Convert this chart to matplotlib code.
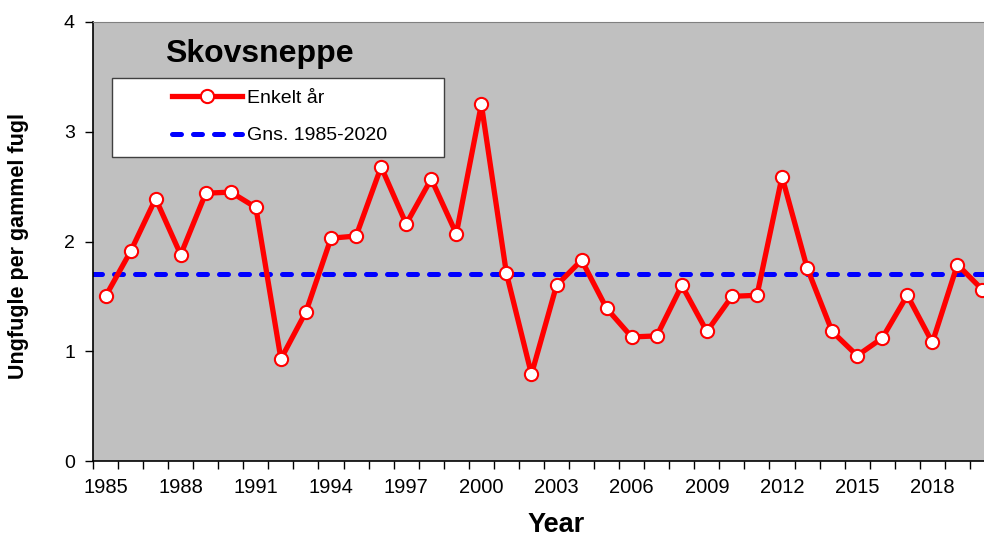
import matplotlib.pyplot as plt
import numpy as np
from matplotlib.patches import Rectangle

plt.rcParams['font.family'] = ['Liberation Sans', 'DejaVu Sans']

# data
years = list(range(1985, 2021))
values = [1.50, 1.91, 2.39, 1.88, 2.44, 2.45, 2.31, 0.93, 1.36, 2.03,
          2.05, 2.68, 2.16, 2.57, 2.07, 3.25, 1.71, 0.79, 1.60, 1.83,
          1.39, 1.13, 1.14, 1.60, 1.18, 1.50, 1.51, 2.59, 1.76, 1.18,
          0.96, 1.12, 1.51, 1.08, 1.79, 1.56]
mean_value = 1.70
mean_label = 'Gns. 1985-2020'
series_label = 'Enkelt år'
species = 'Skovsneppe'

fig = plt.figure(figsize=(9.84, 5.37), dpi=100)
# axes runs a bit past the right edge, like the original crop
ax = fig.add_axes([93/984, 76/537, 902/984, 439/537])
ax.set_facecolor('#C0C0C0')

ax.axhline(mean_value, color='#0000FF', lw=3.6, dashes=(1.8, 2.4),
           dash_capstyle='round', label=mean_label, zorder=2)
ax.plot(years, values, color='#FF0000', lw=3.8, marker='o', ms=9.5,
        mfc='white', mec='#FF0000', mew=1.5, label=series_label, zorder=3)

ax.set_xlim(1984.5, 2020.5)
ax.set_ylim(0, 4)
ax.set_yticks([0, 1, 2, 3, 4])
ax.tick_params(axis='y', direction='out', length=6, width=1, labelsize=14, pad=7)

# labels in the middle of each year, tick marks between years
ax.set_xticks(years[::3])
ax.tick_params(axis='x', which='major', length=0, labelsize=14.5, pad=12)
ax.set_xticks(np.arange(1984.5, 2021, 1), minor=True)
ax.tick_params(axis='x', which='minor', direction='out', length=6, width=1)

for s in ['top', 'right']:
    ax.spines[s].set_color('#808080')
ax.spines['left'].set_color('black')
ax.spines['bottom'].set_color('black')
ax.spines['left'].set_linewidth(1.2)
ax.spines['bottom'].set_linewidth(1.2)

ax.set_ylabel('Ungfugle per gammel fugl', fontsize=15.5, fontweight='bold')
ax.yaxis.set_label_coords((29 - 93) / 902, (461 - 246) / 439)
fig.text(556/984, (537 - 525)/537, 'Year', fontsize=19.5, fontweight='bold',
         ha='center', va='center')

ax.text((259 - 93) / 902, (461 - 62) / 439, species, transform=ax.transAxes,
        fontsize=23, fontweight='bold', ha='center', va='baseline')

# legend box
box = Rectangle((19/902, (461 - 156.7)/439), (444 - 112)/902, 79/439,
                transform=ax.transAxes, facecolor='white', edgecolor='#404040',
                lw=1, zorder=4)
ax.add_patch(box)
handles, labels = ax.get_legend_handles_labels()
leg = ax.legend(handles[::-1], labels[::-1], loc='center left',
                bbox_to_anchor=((154 - 93)/902, (461 - 117)/439),
                frameon=False, fontsize=14, handlelength=3.6,
                handletextpad=0.3, labelspacing=1.0)
leg.set_zorder(5)

fig.savefig('out.png', dpi=100)
